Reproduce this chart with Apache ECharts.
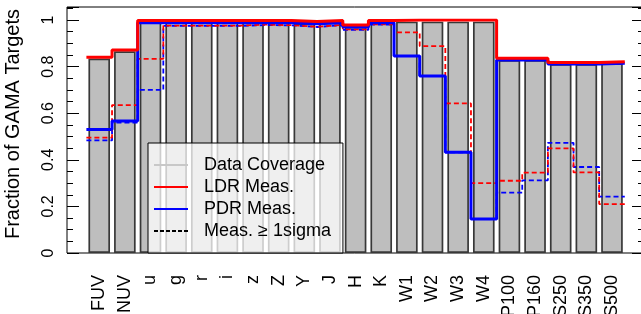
<!DOCTYPE html>
<html>
<head>
<meta charset="utf-8">
<script src="https://cdn.jsdelivr.net/npm/echarts@6/dist/echarts.min.js"></script>
<style>html,body{margin:0;padding:0;background:#fff;}#c{width:641px;height:314px;}</style>
</head>
<body>
<div id="c"></div>
<script>
const categories = ['FUV','NUV','u','g','r','i','z','Z','Y','J','H','K','W1','W2','W3','W4','P100','P160','S250','S350','S500'];
const coverage  = [0.835,0.866,0.99,0.99,0.99,0.99,0.99,0.99,0.985,0.99,0.971,0.99,0.993,0.993,0.993,0.993,0.828,0.828,0.811,0.811,0.814];
const ldrMeas   = [0.84,0.871,0.998,0.998,0.998,0.998,0.998,0.998,0.994,0.998,0.979,0.998,1.0,1.0,1.0,1.0,0.836,0.836,0.818,0.818,0.821];
const pdrMeas   = [0.53,0.566,0.988,0.988,0.988,0.988,0.988,0.988,0.984,0.988,0.97,0.988,0.845,0.76,0.432,0.146,0.828,0.828,0.811,0.811,0.814];
const ldrSigma  = [0.495,0.635,0.833,0.976,0.976,0.976,0.98,0.978,0.971,0.979,0.96,0.981,0.947,0.888,0.642,0.30,0.31,0.345,0.449,0.346,0.21];
const pdrSigma  = [0.483,0.56,0.70,0.975,0.975,0.975,0.978,0.977,0.97,0.978,0.958,0.98,0.845,0.76,0.432,0.146,0.259,0.312,0.473,0.369,0.242];
const yTickLabels = ['0','0.2','0.4','0.6','0.8','1'];
const legendNames = ['Data Coverage','LDR Meas.','PDR Meas.','Meas. \u2265 1sigma'];

const FONT = 'Liberation Sans, Arial, Helvetica, sans-serif';
// frame spans y 7..253, data range 0..1 spans y 20..253
const FRAME_MAX = 246 / 233;

function steps(vals) {
  const pts = vals.map((v, i) => [i - 0.5, v]);
  pts.push([vals.length - 0.5, vals[vals.length - 1]]);
  return pts;
}

function tickAxis(pos, interval, len, labels) {
  return {
    gridIndex: 0, type: 'value', min: 0, max: FRAME_MAX, interval: interval, position: pos,
    axisLine: {show: false},
    axisTick: {show: true, inside: true, length: len, lineStyle: {color: '#000', width: 1}},
    axisLabel: labels ? {rotate: 90, fontSize: 16, margin: 10, color: '#000', fontFamily: FONT,
      formatter: v => { const k = Math.round(v * 5); return Math.abs(v * 5 - k) < 1e-6 && k <= 5 ? yTickLabels[k] : ''; }}
      : {show: false},
    splitLine: {show: false}
  };
}

const yAxes = [
  Object.assign(tickAxis('left', 0.2, 12, true), {
    name: 'Fraction of GAMA Targets', nameLocation: 'middle', nameGap: 44,
    nameTextStyle: {fontSize: 20, color: '#000', fontFamily: FONT, padding: [0, 0, 0, 12]}}),
  tickAxis('left', 0.05, 6, false),
  tickAxis('right', 0.2, 12, false),
  tickAxis('right', 0.05, 6, false),
  {gridIndex: 1, type: 'value', min: 0, max: 1, show: false}
];

const chart = echarts.init(document.getElementById('c'), null, {renderer: 'canvas'});
chart.setOption({
  animation: false,
  backgroundColor: '#fff',
  grid: [
    {left: 67, right: -3, top: 7, bottom: 61, outerBoundsMode: 'none', containLabel: false,
     show: true, borderColor: '#000', borderWidth: 1, backgroundColor: 'transparent'},
    {left: 86.4, right: 16.2, top: 20, bottom: 61, outerBoundsMode: 'none', containLabel: false}
  ],
  xAxis: [
    {gridIndex: 0, type: 'value', show: false, min: 0, max: 1},
    {gridIndex: 1, type: 'category', data: categories, position: 'bottom',
     axisLine: {show: false}, axisTick: {show: false},
     axisLabel: {interval: 0, rotate: 90, fontSize: 18, margin: 22, color: '#000', fontFamily: FONT}},
    {gridIndex: 1, type: 'value', min: -0.5, max: categories.length - 0.5, show: false}
  ],
  yAxis: yAxes,
  legend: {
    left: 148, top: 143, orient: 'vertical', data: legendNames, selectedMode: false,
    itemWidth: 34, itemHeight: 14, itemGap: 4, padding: [13, 12, 13, 5],
    backgroundColor: 'rgba(255,255,255,0.75)', borderColor: '#000', borderWidth: 1,
    itemStyle: {opacity: 0},
    textStyle: {fontSize: 18, color: '#000', fontFamily: FONT, padding: [0, 0, 0, 11]}
  },
  series: [
    {name: 'Coverage', type: 'bar', xAxisIndex: 1, yAxisIndex: 4, data: coverage, barWidth: 21.6, silent: true,
     itemStyle: {color: '#bebebe', borderColor: '#383838', borderWidth: 1.7}, z: 1},
    {name: 'Data Coverage', type: 'line', xAxisIndex: 2, yAxisIndex: 4, data: [], symbol: 'none',
     itemStyle: {color: '#c8c8c8'}, lineStyle: {color: '#c8c8c8', width: 4.5}},
    {name: 'Meas. \u2265 1sigma', type: 'line', xAxisIndex: 2, yAxisIndex: 4, data: [], symbol: 'none',
     itemStyle: {color: '#000'}, lineStyle: {color: '#000', width: 2, type: [4, 2]}},
    {name: 'PDR sigma', type: 'line', xAxisIndex: 2, yAxisIndex: 4, data: steps(pdrSigma), step: 'end', symbol: 'none', silent: true,
     lineStyle: {color: '#0000ff', width: 1.8, type: [5, 3]}, z: 3},
    {name: 'LDR sigma', type: 'line', xAxisIndex: 2, yAxisIndex: 4, data: steps(ldrSigma), step: 'end', symbol: 'none', silent: true,
     lineStyle: {color: '#ff0000', width: 1.8, type: [5, 3]}, z: 3},
    {name: 'PDR Meas.', type: 'line', xAxisIndex: 2, yAxisIndex: 4, data: steps(pdrMeas), step: 'end', symbol: 'none', silent: true,
     itemStyle: {color: '#0000ff'}, lineStyle: {color: '#0000ff', width: 3}, z: 4},
    {name: 'LDR Meas.', type: 'line', xAxisIndex: 2, yAxisIndex: 4, data: steps(ldrMeas), step: 'end', symbol: 'none', silent: true,
     itemStyle: {color: '#ff0000'}, lineStyle: {color: '#ff0000', width: 3}, z: 5}
  ]
});
</script>
</body>
</html>
